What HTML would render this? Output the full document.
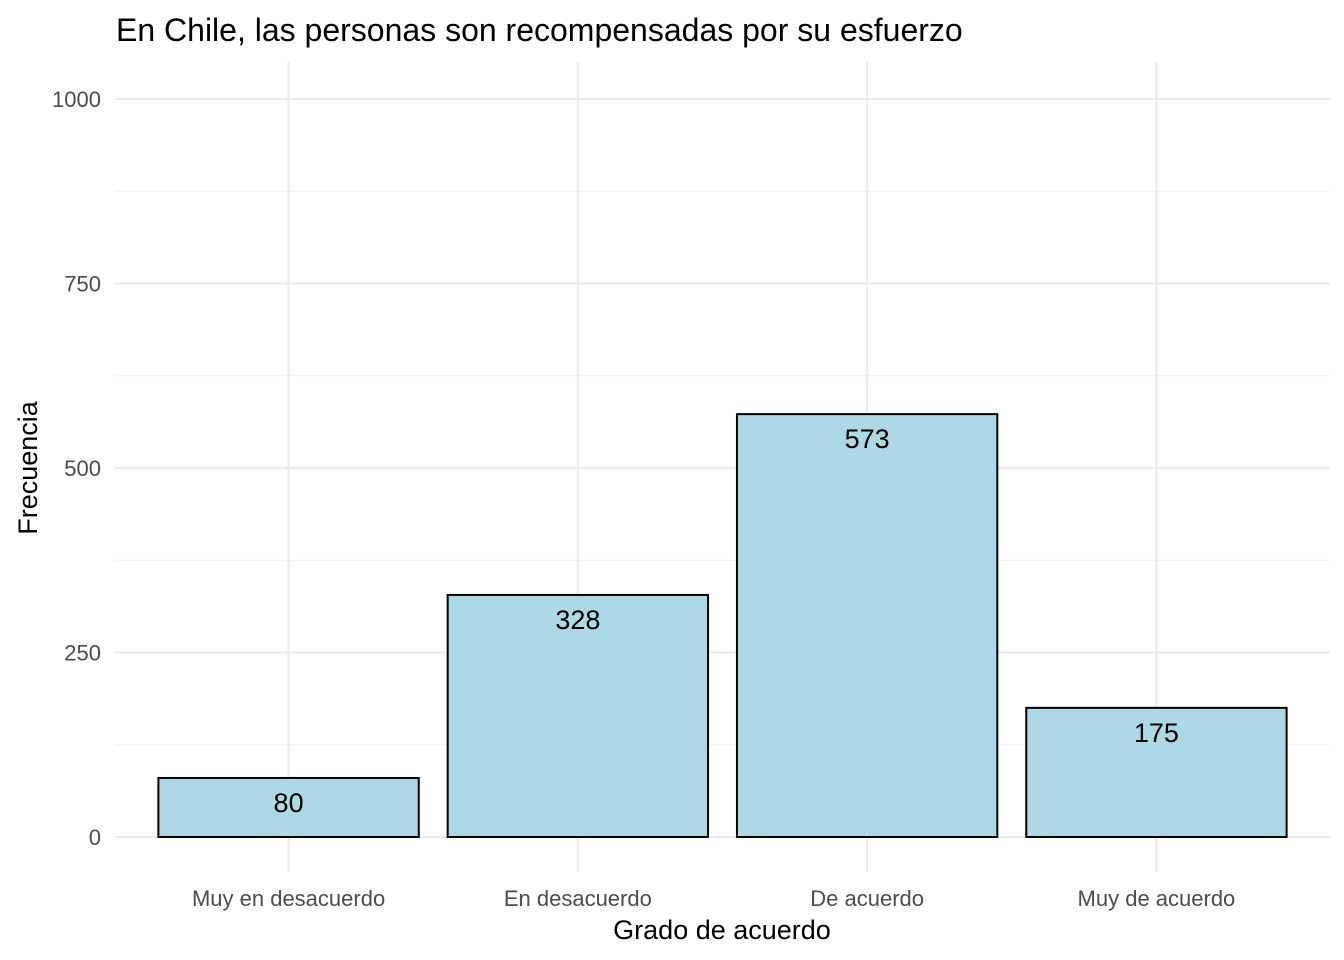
<!DOCTYPE html>
<html><head><meta charset="utf-8"><style>
body{margin:0;background:#fff;}
svg{display:block;font-family:"Liberation Sans",Arial,sans-serif;}
</style></head><body>
<svg id="chart" width="1344" height="960">
<text x="116" y="41" font-size="32" fill="#000">En Chile, las personas son recompensadas por su esfuerzo</text>
<g id="grid"></g>
<g id="bars"></g>
<g id="labels"></g>
<text x="722" y="939" font-size="27" text-anchor="middle" fill="#000">Grado de acuerdo</text>
<text transform="translate(37,468) rotate(-90)" font-size="27" text-anchor="middle" fill="#000">Frecuencia</text>
</svg>
<script>
const categories = ["Muy en desacuerdo","En desacuerdo","De acuerdo","Muy de acuerdo"];
const values = [80, 328, 573, 175];
const yTicks = [0, 250, 500, 750, 1000];
const yMinor = [125, 375, 625, 875];
const NS = "http://www.w3.org/2000/svg";
const panelL = 115, panelR = 1330, panelT = 62, panelB = 872;
const y = v => 837 - v * 0.738;
const step = (panelR - panelL) / (categories.length + 0.2);
const x = i => panelL + step * (0.6 + i);
const bw = step * 0.9;
function mk(tag, attrs, parent){const e=document.createElementNS(NS,tag);for(const k in attrs)e.setAttribute(k,attrs[k]);parent.appendChild(e);return e;}
const grid = document.getElementById("grid"), bars = document.getElementById("bars"), labels = document.getElementById("labels");
yMinor.forEach(v=>{const l=mk("line",{x1:panelL,x2:panelR,y1:y(v),y2:y(v),stroke:"#f0f0f0","stroke-width":1},grid);

});
yTicks.forEach(v=>{const l=mk("line",{x1:panelL,x2:panelR,y1:y(v),y2:y(v),stroke:"#ebebeb","stroke-width":2},grid);


const t=mk("text",{x:101,y:y(v)+8,"text-anchor":"end","font-size":22,fill:"#4d4d4d"},grid);t.textContent=v;

});
categories.forEach((c,i)=>{const l=mk("line",{x1:x(i),x2:x(i),y1:panelT,y2:panelB,stroke:"#ebebeb","stroke-width":2},grid);


const t=mk("text",{x:x(i),y:906,"text-anchor":"middle","font-size":22,fill:"#4d4d4d"},grid);t.textContent=c;


const r=mk("rect",{x:x(i)-bw/2,y:y(values[i]),width:bw,height:y(0)-y(values[i]),fill:"#add8e6",stroke:"#000","stroke-width":2},bars);


const vt=mk("text",{x:x(i),y:y(values[i])+34,"text-anchor":"middle","font-size":27,fill:"#000"},labels);vt.textContent=values[i];

});
</script>
</body></html>
